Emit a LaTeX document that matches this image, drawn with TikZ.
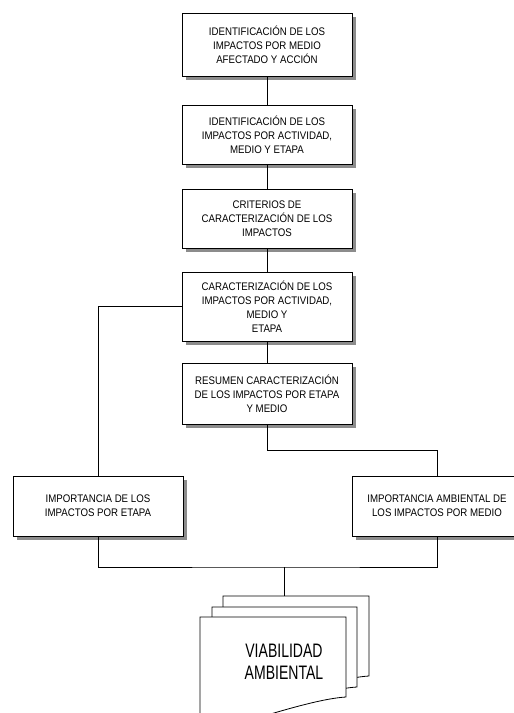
\documentclass[tikz,border=0pt]{standalone}
\usepackage{fontspec}
\usepackage{tikz}
\usetikzlibrary{shadows}
\newfontfamily\boxfont[FakeStretch=0.88]{Liberation Sans}
\newfontfamily\docfont[FakeStretch=0.72]{Liberation Sans}
\tikzset{
  paso/.style={draw, fill=white, line width=0.8pt, minimum width=170pt,
    inner sep=0pt, align=center, font=\boxfont\fontsize{11}{14}\selectfont,
    drop shadow={shadow xshift=3.5pt, shadow yshift=-3.5pt, fill=black!45, opacity=1}},
  linea/.style={line width=0.8pt},
  hoja/.style={draw, fill=white, line width=0.8pt}
}
\begin{document}
\begin{tikzpicture}[x=1pt, y=-1pt]
        \useasboundingbox (0,0) rectangle (514,713); %marco
        \node[paso, minimum height=63pt] (ident) at (267,44.5) {IDENTIFICACIÓN DE LOS\\IMPACTOS POR MEDIO\\AFECTADO Y ACCIÓN};
        \node[paso, minimum height=59pt] (identact) at (267,134.5) {IDENTIFICACIÓN DE LOS\\IMPACTOS POR ACTIVIDAD,\\MEDIO Y ETAPA};
        \node[paso, minimum height=59pt] (criterios) at (267,218.5) {CRITERIOS DE\\CARACTERIZACIÓN DE LOS\\IMPACTOS};
        \node[paso, minimum height=69pt] (caract) at (267,306.5) {CARACTERIZACIÓN DE LOS\\IMPACTOS POR ACTIVIDAD,\\MEDIO Y\\ETAPA};
        \node[paso, minimum height=61pt] (resumen) at (267,393.5) {RESUMEN CARACTERIZACIÓN\\DE LOS IMPACTOS POR ETAPA\\Y MEDIO};
        \node[paso, minimum height=60pt] (impetapa) at (98,506) {IMPORTANCIA DE LOS\\IMPACTOS POR ETAPA};
        \node[paso, minimum height=60pt] (impmedio) at (437,506) {IMPORTANCIA AMBIENTAL DE\\LOS IMPACTOS POR MEDIO};
        % conectores
        \draw[linea] (ident) -- (identact);
        \draw[linea] (identact) -- (criterios);
        \draw[linea] (criterios) -- (caract);
        \draw[linea] (caract) -- (resumen);
        \draw[linea] (caract.west) -| (impetapa.north);
        \draw[linea] (resumen.south) -- ++(0,26) -| (impmedio.north);
        \coordinate (union) at (284,567);
        \coordinate (hojatop) at (284,596);
        \draw[linea] (impetapa.south) |- (union) -| (impmedio.south);
        \draw[linea] (union) -- (hojatop);
        % hojas (documento)
        \draw[hoja] (223,740) -- (223,596) -- (369,596) -- (369,676) .. controls (338,678) and (288,695) .. (223,713);
        \draw[hoja] (212,740) -- (212,607) -- (357,607) -- (357,687) .. controls (326,689) and (276,706) .. (212,724);
        \draw[hoja] (200,740) -- (200,617) -- (346,617) -- (346,697) .. controls (315,699) and (265,716) .. (200,735);
        \node[font=\docfont\fontsize{19.5}{21.7}\selectfont, align=center] (viab) at (284,662) {VIABILIDAD\\AMBIENTAL};
\end{tikzpicture}
\end{document}
